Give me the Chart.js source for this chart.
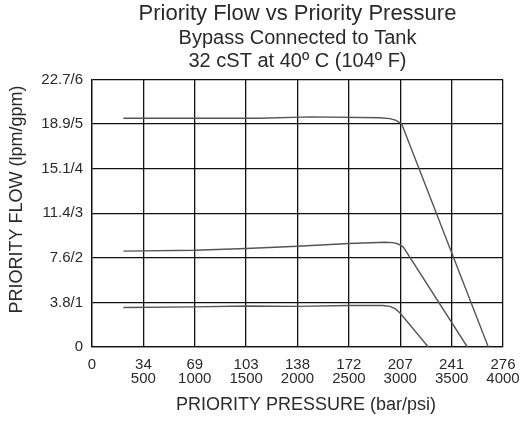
<!DOCTYPE html>
<html>
<head>
<meta charset="utf-8">
<title>Priority Flow vs Priority Pressure</title>
<script src="https://cdn.jsdelivr.net/npm/chart.js@4/dist/chart.umd.min.js"></script>
<style>
    html, body { margin: 0; padding: 0; background: #fff; }
    #wrap { width: 520px; height: 421px; }
</style>
</head>
<body>
<div id="wrap"><canvas id="flowChart" width="520" height="421"></canvas></div>
<script>
// x = priority pressure (psi), y = priority flow (gpm)
const barLabels = ["0", "34", "69", "103", "138", "172", "207", "241", "276"];
const psiLabels = ["", "500", "1000", "1500", "2000", "2500", "3000", "3500", "4000"];
const flowLabels = ["0", "3.8/1", "7.6/2", "11.4/3", "15.1/4", "18.9/5", "22.7/6"];

const highPsi = [305, 1000, 1635, 2122, 2800, 2900, 2960, 3014, 3857];
const highGpm = [5.13, 5.13, 5.13, 5.16, 5.14, 5.12, 5.08, 5.0, 0];

const midPsi = [305, 1000, 1500, 2000, 2500, 2850, 2930, 2980, 3030, 3653];
const midGpm = [2.15, 2.17, 2.21, 2.26, 2.32, 2.35, 2.34, 2.31, 2.24, 0];

const lowPsi = [305, 1000, 1500, 2000, 2500, 2830, 2900, 2950, 2998, 3273];
const lowGpm = [0.885, 0.9, 0.92, 0.91, 0.93, 0.93, 0.91, 0.86, 0.76, 0];

const FONT = "'Liberation Sans', Arial, Helvetica, sans-serif";
const INK = "#2a2a2a";

function toPoints(xs, ys) {
    return xs.map((x, i) => ({ x: x, y: ys[i] }));
}

function curve(xs, ys) {
    return {
        data: toPoints(xs, ys),
        borderColor: "#555",
        borderWidth: 1.4,
        pointRadius: 0,
        fill: false,
        tension: 0,
    };
}

// axis titles, placed like the original sheet (not centred on the plot)
const axisTitles = {
    id: "axisTitles",
    afterDraw(chart) {
        const { ctx, chartArea } = chart;
        ctx.save();
        ctx.fillStyle = INK;
        ctx.font = "18px " + FONT;
        ctx.textAlign = "center";
        ctx.textBaseline = "middle";
        ctx.fillText("PRIORITY PRESSURE (bar/psi)", chartArea.left + 214, chartArea.bottom + 58);
        ctx.translate(17, chartArea.top + 120);
        ctx.rotate(-Math.PI / 2);
        ctx.fillText("PRIORITY FLOW (lpm/gpm)", 0, 0);
        ctx.restore();
    },
};

new Chart(document.getElementById("flowChart"), {
    type: "line",
    data: {
        datasets: [curve(highPsi, highGpm), curve(midPsi, midGpm), curve(lowPsi, lowGpm)],
    },
    options: {
        responsive: false,
        animation: false,
        events: [],
        layout: { padding: { top: 0, right: 17, bottom: 0, left: 0 } },
        plugins: {
            legend: { display: false },
            tooltip: { enabled: false },
            title: {
                display: true,
                fullSize: false,
                text: "Priority Flow vs Priority Pressure",
                color: INK,
                font: { family: FONT, size: 22, weight: "normal", lineHeight: 1.2 },
                padding: { top: 1, bottom: 0 },
            },
            subtitle: {
                display: true,
                fullSize: false,
                text: ["Bypass Connected to Tank", "32 cST at 40º C (104º F)"],
                color: INK,
                font: { family: FONT, size: 20, lineHeight: 1.15 },
                padding: { top: 0, bottom: 6 },
            },
        },
        scales: {
            x: {
                type: "linear",
                min: 0,
                max: 4000,
                grid: { color: "#111", lineWidth: 1.3, drawTicks: false },
                border: { color: "#111", width: 1.3 },
                ticks: {
                    stepSize: 500,
                    padding: 11,
                    maxRotation: 0,
                    color: INK,
                    font: { family: FONT, size: 15, lineHeight: 0.93 },
                    callback: (v) => {
                        const i = Math.round(v / 500);
                        return i === 0 ? barLabels[0] : [barLabels[i], psiLabels[i]];
                    },
                },
                afterFit(scale) {
                    scale.height = 74;
                    scale.paddingLeft = 0;
                    scale.paddingRight = 0;
                },
            },
            y: {
                min: 0,
                max: 6,
                grid: { color: "#111", lineWidth: 1.3, drawTicks: false },
                border: { color: "#111", width: 1.3 },
                ticks: {
                    stepSize: 1,
                    padding: 9,
                    color: INK,
                    font: { family: FONT, size: 15 },
                    callback: (v) => flowLabels[Math.round(v)],
                },
                afterFit(scale) {
                    scale.width = 92;
                    scale.paddingTop = 0;
                    scale.paddingBottom = 0;
                },
            },
        },
    },
    plugins: [axisTitles],
});
</script>
</body>
</html>
